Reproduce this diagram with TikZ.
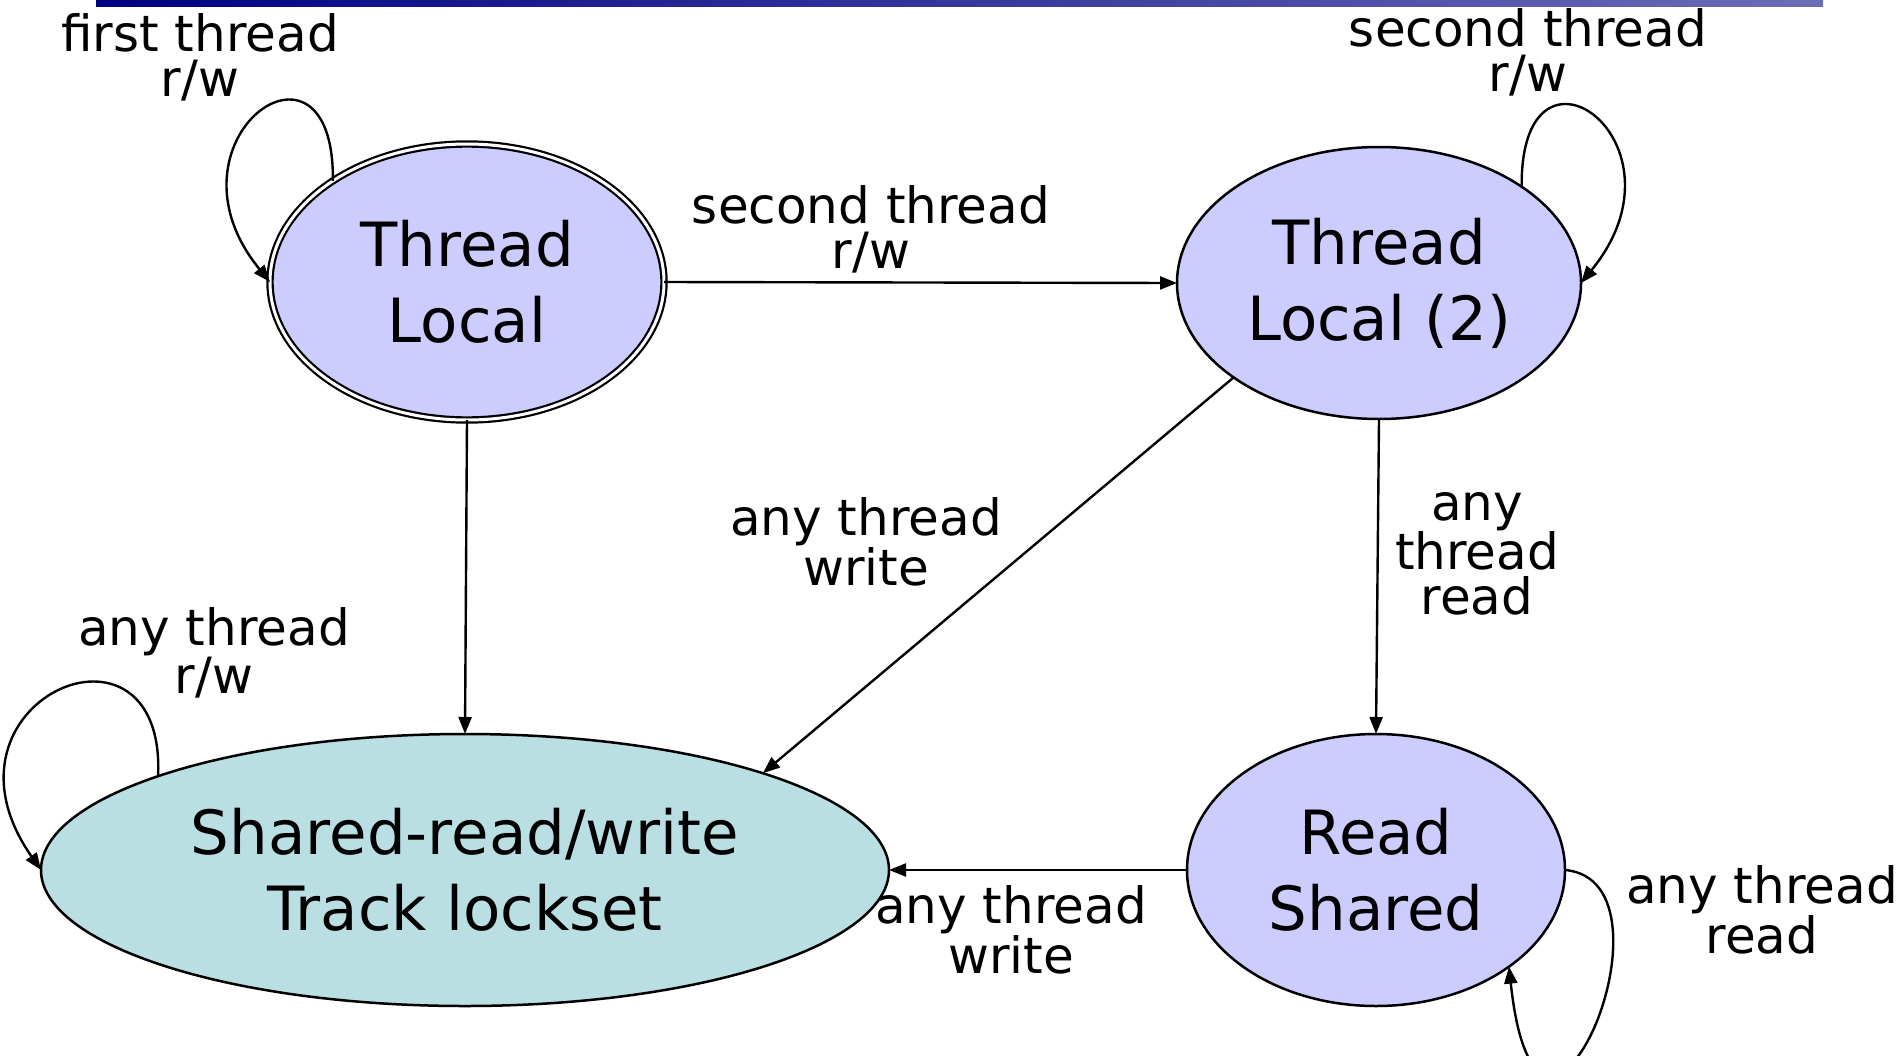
\documentclass[tikz,border=0pt]{standalone}
\usepackage{fontspec}
\setmainfont{DejaVu Sans}
\usetikzlibrary{shapes.geometric,arrows.meta}
\definecolor{statefill}{RGB}{204,204,255}
\definecolor{sharedfill}{RGB}{185,223,227}
\definecolor{barleft}{RGB}{0,0,128}
\definecolor{barright}{RGB}{108,108,182}
\begin{document}
\begin{tikzpicture}[x=1pt,y=-1pt,
  state/.style={ellipse, draw, line width=2.5pt, fill=statefill, inner sep=0pt,
    outer sep=0pt, align=center, font=\fontsize{61}{76}\selectfont},
  lbl/.style={align=center, inner sep=0pt, font=\fontsize{50}{45}\selectfont},
  trans/.style={line width=2.4pt, -{Triangle[length=17pt,width=13pt]}}]
  \useasboundingbox (0,0) rectangle (1903,1055);

  % title bar
  \shade[left color=barleft, right color=barright] (96,0) rectangle (1823,6);

  % states
  \node[state, line width=2.2pt, double, double distance=3pt,
        minimum width=394pt, minimum height=276pt]
    (tl) at (467,282) {Thread\\Local};
  \node[state, minimum width=404pt, minimum height=272pt]
    (tl2) at (1379,283) {Thread\\Local (2)};
  \node[state, fill=sharedfill, minimum width=848pt, minimum height=272pt]
    (shared) at (465,870) {Shared-read/write\\Track lockset};
  \node[state, minimum width=378pt, minimum height=272pt]
    (rs) at (1376,870) {Read\\Shared};

  % transitions between states
  \draw[trans] (tl.east) -- (tl2.west);
  \draw[trans] (tl.south) -- (shared.north);
  \draw[trans] (tl2.213.8) -- (shared.18);
  \draw[trans] (tl2.south) -- (rs.north);
  \draw[trans] (rs.west) -- (shared.east);

  % self loops
  \draw[trans] (tl.143.7) .. controls +(2,-170) and +(-116,-142) .. (tl.west);
  \draw[trans] (tl2.34.4) .. controls +(-2,-170) and +(116,-142) .. (tl2.east);
  \draw[trans] (shared.163) .. controls +(8,-180) and +(-118,-169) .. (shared.west);
  \draw[trans] (rs.east) .. controls +(124,11) and +(29,273) .. (rs.324.3);

  % transition labels
  \node[lbl] (l1) at (200,57) {first thread\\r/w};
  \node[lbl] (l2) at (871,229) {second thread\\r/w};
  \node[lbl] (l3) at (1528,52) {second thread\\r/w};
  \node[lbl] (l4) at (866,542) {any thread\\write};
  \node[lbl] (l5) at (1477,554) {any\\thread\\read};
  \node[lbl] (l6) at (214,653) {any thread\\r/w};
  \node[lbl] (l7) at (1011,930) {any thread\\write};
  \node[lbl] (l8) at (1762,910) {any thread\\read};
\end{tikzpicture}
\end{document}
